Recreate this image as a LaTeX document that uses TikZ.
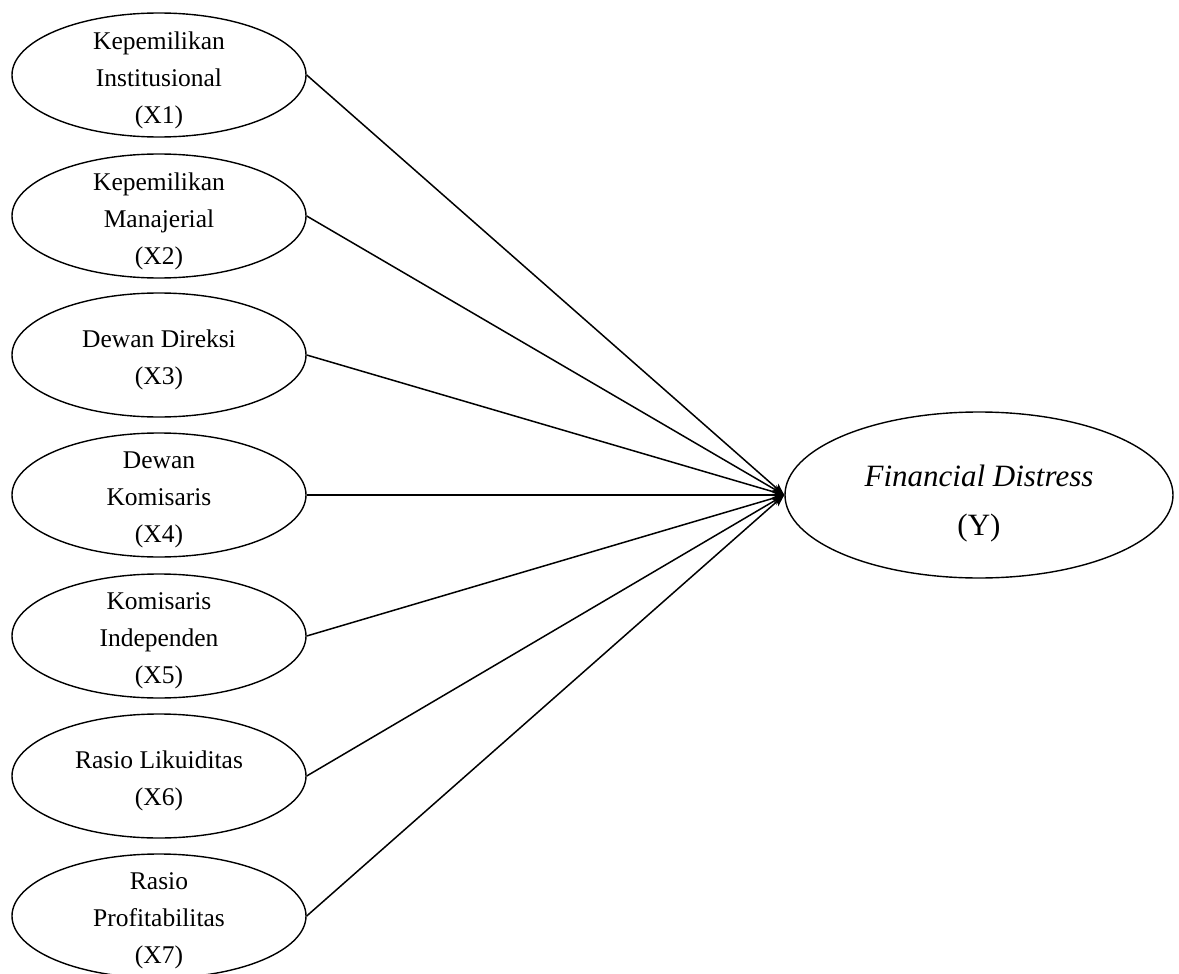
\documentclass[tikz,border=0pt]{standalone}
\usepackage{fontspec}
\setmainfont{Liberation Serif}
\usetikzlibrary{shapes.geometric,arrows.meta}
\tikzset{
  ell/.style={draw, ellipse, line width=1.4pt, inner sep=0pt, minimum width=294pt, minimum height=124pt},
  yell/.style={draw, ellipse, line width=1.4pt, inner sep=0pt, minimum width=388pt, minimum height=166pt},
  txt/.style={align=center, inner sep=0pt, font=\fontsize{25.5pt}{37pt}\selectfont},
  ytxt/.style={align=center, inner sep=0pt, font=\fontsize{31pt}{49pt}\selectfont},
  link/.style={line width=1.5pt, -{Stealth[length=12pt,width=9pt]}}
}
\begin{document}
\begin{tikzpicture}[x=1pt,y=-1pt]
\useasboundingbox (0,0) rectangle (1179,974);
\node[ell] (x1) at (159,75) {};
\node[ell] (x2) at (159,216) {};
\node[ell] (x3) at (159,355) {};
\node[ell] (x4) at (159,495) {};
\node[ell] (x5) at (159,636) {};
\node[ell] (x6) at (159,776) {};
\node[ell] (x7) at (159,916) {};
\node[yell] (y) at (979,495) {};
\node[txt] (t1) at (159,80) {Kepemilikan\\Institusional\\(X1)};
\node[txt] (t2) at (159,221) {Kepemilikan\\Manajerial\\(X2)};
\node[txt] (t3) at (159,360) {Dewan Direksi\\(X3)};
\node[txt] (t4) at (159,500) {Dewan\\Komisaris\\(X4)};
\node[txt] (t5) at (159,641) {Komisaris\\Independen\\(X5)};
\node[txt] (t6) at (159,781) {Rasio Likuiditas\\(X6)};
\node[txt] (t7) at (159,921) {Rasio\\Profitabilitas\\(X7)};
\node[ytxt] (ty) at (979,504) {\textit{Financial Distress}\\(Y)};
\foreach \i in {1,...,7} {
  \draw[link] (x\i.east) -- (y.west);
}
\end{tikzpicture}
\end{document}
